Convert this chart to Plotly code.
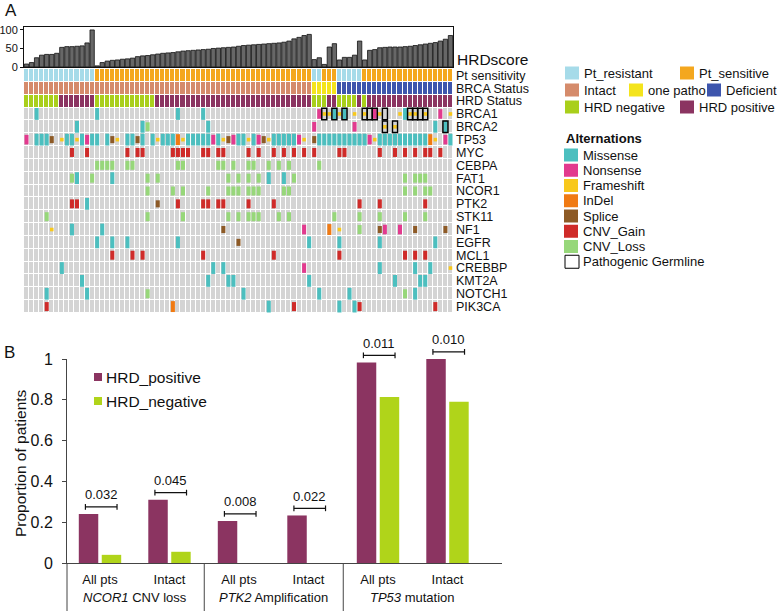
import plotly.graph_objects as go

W, H = 780, 611
FONT = "Arial, 'Liberation Sans', Helvetica, sans-serif"

# ---------------- Panel A data (85 patients, left to right) ----------------
hrd_score = [8, 12, 25, 32, 34, 34, 37, 53, 55, 55, 56, 57, 65, 100,
             3, 12, 16, 18, 19, 21, 22, 24, 28, 30, 31, 33, 35, 37, 38, 39, 41, 43, 44, 45,
             46, 47, 48, 50, 51, 52, 53, 54, 56,
             58, 59, 60, 61, 62, 63, 64, 65, 67, 70, 76, 80, 85, 88,
             20, 25, 7, 54, 63, 19, 26, 26, 32, 70, 19,
             45, 47, 52, 53, 54, 54, 54, 55, 56, 58, 60, 62, 64, 66, 70, 75, 85]

# r = Pt_resistant, s = Pt_sensitive
pt_sensitivity = ("rrrrrrrrrr" "rrrrssssss" "ssssssssss" "ssssssssss" "ssssssssss"
                  "sssssssrrs" "ssrrrrrsss" "ssssssssss" "sssss")
# i = Intact, o = one patho, d = Deficient
brca_status = ("iiiiiiiiii" "iiiiiiiiii" "iiiiiiiiii" "iiiiiiiiii" "iiiiiiiiii"
               "iiiiiiiooo" "oodddddddd" "dddddddddd" "ddddd")
# n = HRD negative, p = HRD positive
hrd_status = ("nnnnnnnppp" "ppppnnnnnn" "nnnnnnpppp" "pppppppppp" "pppppppppp"
              "pppppppnnn" "ppnnnnpnpp" "pppppppppp" "ppppp")

# M Missense, N Nonsense, F Frameshift, I InDel, S Splice, G CNV_Gain, L CNV_Loss
BRCA1 = ("..M......." "....M....." ".........." "M....M...." ".........."
         "........NF" "FMFM.F.F.N" "F...FMFF.F" "..N.F")
BRCA1_germline = (".........." ".........." ".........." ".........." ".........."
                  ".........x" ".x.x...xxx" ".x....xxxx" ".....")
BRCA2 = (".........." "M........." "...ML....." "......M..." ".........."
         ".......N.." ".....N...." ".F.F......" ".M.M.")
BRCA2_germline = (".........." ".........." ".........." ".........." ".........."
                  ".........." ".........." ".x.x......" "...x.")
TP53 = ("N.MMMS.FMM" "FMNMM.MSF." "MMSM.MFMMM" "IFMMMMMNMF" "SNMMFMNSFM"
        "MMMMNF.SMM" "MMMMMMMMNF" "MMMMMMMMMM" "IF.NM")
MYC = (".........G" "..G......." "G.GG.....G" "GGG..GG.GG" "....G.G..G"
       ".G.G.G.G.." "..GG......" "G..G.G.G.G" "G.G..")
CEBPA = (".........." "....LLLL.." "LL........" "LL......LL" ".L..LL..L."
         "L.L.....L." ".........." ".........." ".....")
FAT1 = (".........L" "M..L...M.." "....L.L..." ".........." "L.L.L.L.M."
        ".M.L......" ".........." ".....L.LLL" ".....")
NCOR1 = (".........." ".........." "....L....L" ".L....L..." "LLL.LLL..."
         ".LL......." ".........." ".....L.L.L" "L....")
PTK2 = (".........G" "G.M......." "......S..." "G....GG.GG" "....G....G"
        ".........." "......G..." "G........G" ".....")
STK11 = ("....L....." ".........." "....L....." ".L........" "L.L.LLL..."
         "L.L......." ".L....L..." "L....L...L" ".....")
NF1 = (".....F...M" ".....M...." ".........." ".........S" ".........."
       ".....N...." "I.F...L..." "SN..N..S.." "...S.")
EGFR = (".........." "....M..M.." "M........." "M........." "..S......."
        "......M..." "..M......." "M........." ".M...")
MCL1 = (".........." ".......G.." ".G.G......" ".....G...." ".........G"
        ".........." "..G......." ".....G.G.G" ".....")
CREBBP = (".......M.." ".........." ".........." ".......M.M" ".........."
          ".....N...." ".........." "M......M.." "M...F")
KMT2A = (".........." ".M........" ".........." "......M..." "MM........"
         "......M..." ".........." "...M....MM" ".....")
NOTCH1 = ("....M....." "..M......." "....L....." ".........." "...M......"
          "........M." "....M....." ".....L.M.." ".....")
PIK3CA = ("....G....." ".........." ".........I" ".........." "........M."
          "...G......" "..M..MG..." ".........." ".G...")

annotation_names = ["Pt sensitivity", "BRCA Status", "HRD Status"]
gene_names = ["BRCA1", "BRCA2", "TP53", "MYC", "CEBPA", "FAT1", "NCOR1", "PTK2",
              "STK11", "NF1", "EGFR", "MCL1", "CREBBP", "KMT2A", "NOTCH1", "PIK3CA"]
gene_rows = [BRCA1, BRCA2, TP53, MYC, CEBPA, FAT1, NCOR1, PTK2,
             STK11, NF1, EGFR, MCL1, CREBBP, KMT2A, NOTCH1, PIK3CA]
germline_rows = {0: BRCA1_germline, 1: BRCA2_germline}

# ---------------- Panel B data ----------------
b_categories = ["All pts", "Intact", "All pts", "Intact", "All pts", "Intact"]
b_groups = ["<i>NCOR1</i> CNV loss", "<i>PTK2</i> Amplification", "<i>TP53</i> mutation"]
hrd_positive = [0.24, 0.31, 0.206, 0.233, 0.983, 1.0]
hrd_negative = [0.04, 0.055, 0.0, 0.0, 0.814, 0.79]
p_values = ["0.032", "0.045", "0.008", "0.022", "0.011", "0.010"]

# ---------------- styles ----------------
ANN_COLORS = {"r": "#a6dbe9", "s": "#f4a71e", "i": "#d58b6b", "o": "#f4e41c",
              "d": "#3d55ad", "n": "#a9cf1b", "p": "#8b3461"}
GRAY = "#d4d4d4"
GLYPH = {  # code: (label, color, width, height) in column / row units
    "M": ("Missense", "#4cbfbf", 0.8, 0.92),
    "N": ("Nonsense", "#e23a8e", 0.8, 0.75),
    "F": ("Frameshift", "#f8c81c", 0.7, 0.28),
    "I": ("InDel", "#f07a13", 0.8, 0.85),
    "S": ("Splice", "#8d5a26", 0.8, 0.55),
    "G": ("CNV_Gain", "#cf2b29", 0.8, 0.7),
    "L": ("CNV_Loss", "#97d77a", 0.8, 0.7),
}
POS_C, NEG_C = "#8b3461", "#b0d41a"
AXC = "#454545"

for s in [pt_sensitivity, brca_status, hrd_status] + gene_rows + list(germline_rows.values()):
    assert len(s) == len(hrd_score), len(s)


def fx(p):
    return p / W


def fy(p):
    return 1 - p / H


n = len(hrd_score)
cols = list(range(n))
n_ann = len(annotation_names)
row_labels = annotation_names + gene_names

# geometry (pixels)
A_X0, A_X1 = 24, 453
HRD_TOP, HRD_BOT = 27, 67
GRID_TOP, GRID_BOT = 69, 313
B_X0, B_X1 = 67, 502
B_Y0, B_Y1 = 563, 359
CAT_PX, CAT0 = 69.5, 100
B_BOTTOM, B_TOP_EXT = 611, 320


def bx(p):
    return (p - CAT0) / CAT_PX


def by(p):
    return (B_Y0 - p) / (B_Y0 - B_Y1)


fig = go.Figure()

# HRD score bars
fig.add_trace(go.Bar(x=cols, y=hrd_score, width=0.86, xaxis="x", yaxis="y",
                     marker=dict(color="#676767", line=dict(color="#111111", width=0.8)),
                     hoverinfo="skip"))

# background / annotation heatmap
code_val = {"r": 1, "s": 2, "i": 3, "o": 4, "d": 5, "n": 6, "p": 7}
z = [[code_val[c] for c in pt_sensitivity],
     [code_val[c] for c in brca_status],
     [code_val[c] for c in hrd_status]]
z += [[0] * n for _ in gene_names]
order = [GRAY] + [ANN_COLORS[k] for k in "rsiodnp"]
cs = []
for k, col in enumerate(order):
    cs += [[k / 8, col], [(k + 1) / 8, col]]
fig.add_trace(go.Heatmap(z=z, x=cols, y=list(range(len(row_labels))), colorscale=cs,
                         zmin=-0.5, zmax=7.5, showscale=False, xgap=1, ygap=1,
                         xaxis="x", yaxis="y2", hoverinfo="skip"))

# mutation glyphs
for code, (label, color, w, h) in GLYPH.items():
    xs, bases = [], []
    for r, row in enumerate(gene_rows):
        for c, ch in enumerate(row):
            if ch == code:
                xs.append(c)
                bases.append(n_ann + r - h / 2)
    fig.add_trace(go.Bar(x=xs, y=[h] * len(xs), base=bases, width=w, xaxis="x", yaxis="y2",
                         marker=dict(color=color, line=dict(width=0)), hoverinfo="skip"))

# germline boxes
gx, gb = [], []
gh = 0.9
for r, row in germline_rows.items():
    for c, ch in enumerate(row):
        if ch == "x":
            gx.append(c)
            gb.append(n_ann + r - gh / 2)
fig.add_trace(go.Bar(x=gx, y=[gh] * len(gx), base=gb, width=1.0, xaxis="x", yaxis="y2",
                     marker=dict(color="rgba(0,0,0,0)", line=dict(color="#000000", width=1.5)),
                     hoverinfo="skip"))

# ---------------- Panel B ----------------
bw = 0.28
fig.add_trace(go.Bar(x=list(range(len(hrd_positive))), y=hrd_positive, width=bw, offset=-0.305,
                     marker=dict(color=POS_C, line=dict(width=0)), xaxis="x2", yaxis="y3",
                     hoverinfo="skip"))
fig.add_trace(go.Bar(x=list(range(len(hrd_negative))), y=hrd_negative, width=bw, offset=0.025,
                     marker=dict(color=NEG_C, line=dict(width=0)), xaxis="x2", yaxis="y3",
                     hoverinfo="skip"))

# brackets (overlay axes with identical scale)
brx, bry = [], []
tick = 0.014
bracket_y = []
for i in range(len(p_values)):
    yb = max(hrd_positive[i], hrd_negative[i]) + 0.035
    bracket_y.append(yb)
    x0, x1 = i - 0.21, i + 0.245
    brx += [x0, x0, None, x0, x1, None, x1, x1, None]
    bry += [yb - tick, yb + tick, None, yb, yb, None, yb - tick, yb + tick, None]
fig.add_trace(go.Scatter(x=brx, y=bry, mode="lines", line=dict(color="#111111", width=1.2),
                         xaxis="x3", yaxis="y4", hoverinfo="skip"))

# group separators below the axis
sx, sy = [], []
for xv in [bx(B_X0), 1.5, 3.5]:
    sx += [xv, xv, None]
    sy += [0, by(B_BOTTOM), None]
fig.add_trace(go.Scatter(x=sx, y=sy, mode="lines", line=dict(color=AXC, width=1),
                         xaxis="x3", yaxis="y4", hoverinfo="skip"))

annotations = []
shapes = []

# p-values
for i, pv in enumerate(p_values):
    annotations.append(dict(x=i + 0.02, y=bracket_y[i], xref="x3", yref="y4", text=pv,
                            showarrow=False, yshift=12, yanchor="middle", font=dict(size=13)))
# group labels
for g, lab in enumerate(b_groups):
    annotations.append(dict(x=2 * g + 0.5, y=fy(597), xref="x3", yref="paper", text=lab,
                            showarrow=False, xanchor="center", yanchor="middle",
                            font=dict(size=13)))

# panel letters and titles
annotations += [
    dict(x=fx(3), y=fy(11), xref="paper", yref="paper", text="A", showarrow=False,
         xanchor="left", yanchor="middle", font=dict(size=17)),
    dict(x=fx(2), y=fy(352), xref="paper", yref="paper", text="B", showarrow=False,
         xanchor="left", yanchor="middle", font=dict(size=17)),
    dict(x=fx(455), y=fy(60), xref="paper", yref="paper", text="HRDscore", showarrow=False,
         xanchor="left", yanchor="middle", font=dict(size=15.5)),
    dict(x=fx(20), y=fy(463), xref="paper", yref="paper", text="Proportion of patients",
         showarrow=False, textangle=-90, xanchor="center", yanchor="middle", font=dict(size=15.5)),
]

# legend A (annotation tracks)
leg_rows = [
    (73, [(565, "Pt_resistant", ANN_COLORS["r"]), (680, "Pt_sensitive", ANN_COLORS["s"])]),
    (90, [(565, "Intact", ANN_COLORS["i"]), (629, "one patho", ANN_COLORS["o"]),
          (707, "Deficient", ANN_COLORS["d"])]),
    (107, [(565, "HRD negative", ANN_COLORS["n"]), (680, "HRD positive", ANN_COLORS["p"])]),
]
SW, SH = 14, 13
for yc, items in leg_rows:
    for xl, lab, colr in items:
        shapes.append(dict(type="rect", xref="paper", yref="paper", x0=fx(xl), x1=fx(xl + SW),
                           y0=fy(yc + SH / 2), y1=fy(yc - SH / 2), fillcolor=colr,
                           line=dict(width=0)))
        annotations.append(dict(x=fx(xl + 17), y=fy(yc), xref="paper", yref="paper", text=lab,
                                showarrow=False, xanchor="left", yanchor="middle",
                                font=dict(size=13)))

# legend A (alterations)
annotations.append(dict(x=fx(564), y=fy(138), xref="paper", yref="paper", text="<b>Alternations</b>",
                        showarrow=False, xanchor="left", yanchor="middle", font=dict(size=13)))
alt_items = [(GLYPH[k][0], GLYPH[k][1]) for k in "MNFISGL"] + [("Pathogenic Germline", None)]
for k, (lab, colr) in enumerate(alt_items):
    yc = 155 + 15.25 * k
    if colr is None:
        shapes.append(dict(type="rect", xref="paper", yref="paper", x0=fx(565), x1=fx(565 + SW),
                           y0=fy(yc + SH / 2), y1=fy(yc - SH / 2), fillcolor="white",
                           line=dict(color="black", width=1)))
    else:
        shapes.append(dict(type="rect", xref="paper", yref="paper", x0=fx(564), x1=fx(564 + SW),
                           y0=fy(yc + SH / 2), y1=fy(yc - SH / 2), fillcolor=colr,
                           line=dict(width=0)))
    annotations.append(dict(x=fx(581), y=fy(yc), xref="paper", yref="paper", text=lab,
                            showarrow=False, xanchor="left", yanchor="middle", font=dict(size=13)))

# legend B
for yc, lab, colr in [(377, "HRD_positive", POS_C), (401, "HRD_negative", NEG_C)]:
    shapes.append(dict(type="rect", xref="paper", yref="paper", x0=fx(94), x1=fx(102),
                       y0=fy(yc + 4), y1=fy(yc - 4), fillcolor=colr, line=dict(width=0)))
    annotations.append(dict(x=fx(104), y=fy(yc), xref="paper", yref="paper", text=lab,
                            showarrow=False, xanchor="left", yanchor="middle", font=dict(size=15.5)))

hidden = dict(visible=False, showgrid=False, zeroline=False, automargin=False)

fig.update_layout(
    width=W, height=H, margin=dict(l=0, r=0, t=0, b=0, pad=0, autoexpand=False),
    paper_bgcolor="white", plot_bgcolor="rgba(0,0,0,0)",
    font=dict(family=FONT, color="#111111", size=12),
    barmode="overlay", showlegend=False, hovermode=False,
    xaxis=dict(domain=[fx(A_X0), fx(A_X1)], range=[-0.5, n - 0.5], anchor="y",
               showline=True, mirror=True, linecolor="#111111", linewidth=1,
               showticklabels=False, ticks="", showgrid=False, zeroline=False, automargin=False),
    yaxis=dict(domain=[fy(HRD_BOT), fy(HRD_TOP)], range=[0, 108], anchor="x",
               showline=True, mirror=True, linecolor="#111111", linewidth=1,
               ticks="outside", ticklen=3, tickcolor="#111111", tickvals=[0, 50, 100],
               tickfont=dict(size=11), showgrid=False, zeroline=False, automargin=False),
    yaxis2=dict(domain=[fy(GRID_BOT), fy(GRID_TOP)], range=[len(row_labels) - 0.5, -0.5],
                anchor="x", side="right", tickvals=list(range(len(row_labels))),
                ticktext=row_labels, ticks="", showline=False, showgrid=False, zeroline=False,
                tickfont=dict(size=12.5), automargin=False, ticklabelstandoff=2),
    xaxis2=dict(domain=[fx(B_X0), fx(B_X1)], range=[bx(B_X0), bx(B_X1)], anchor="y3",
                showline=True, linecolor=AXC, linewidth=1, ticks="",
                tickvals=list(range(len(b_categories))), ticktext=b_categories,
                tickfont=dict(size=13), showgrid=False, zeroline=False, ticklabelstandoff=4,
                automargin=False),
    yaxis3=dict(domain=[fy(B_Y0), fy(B_Y1)], range=[0, 1], anchor="x2",
                showline=True, linecolor=AXC, linewidth=1, ticks="outside", ticklen=4,
                tickcolor=AXC, tickvals=[0, 0.2, 0.4, 0.6, 0.8, 1],
                ticktext=["0", "0.2", "0.4", "0.6", "0.8", "1"], tickfont=dict(size=16),
                showgrid=False, zeroline=False, ticklabelstandoff=6, automargin=False),
    xaxis3=dict(domain=[fx(40), fx(520)], range=[bx(40), bx(520)], anchor="y4", **hidden),
    yaxis4=dict(domain=[fy(B_BOTTOM), fy(B_TOP_EXT)], range=[by(B_BOTTOM), by(B_TOP_EXT)],
                anchor="x3", **hidden),
    annotations=annotations, shapes=shapes,
)

fig.write_html("out.html", config={"displayModeBar": False, "staticPlot": True},
               post_script="document.body.style.margin='0px';document.body.style.overflow='hidden';")
